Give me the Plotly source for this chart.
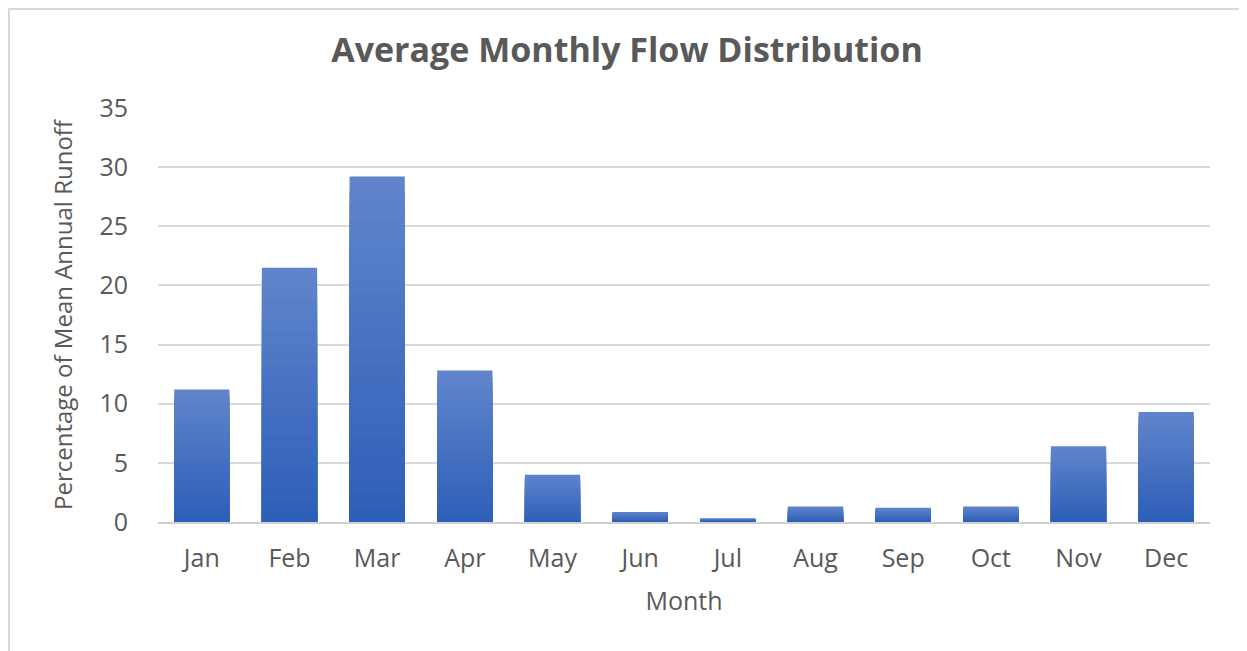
import plotly.graph_objects as go

months = ["Jan", "Feb", "Mar", "Apr", "May", "Jun", "Jul", "Aug", "Sep", "Oct", "Nov", "Dec"]
flow_pct = [11.2, 21.5, 29.2, 12.8, 4.0, 0.85, 0.3, 1.3, 1.2, 1.3, 6.4, 9.3]
y_ticks = [0, 5, 10, 15, 20, 25, 30, 35]

top_rgb = (96, 132, 203)
bot_rgb = (46, 95, 184)
n_layers = 24

fig = go.Figure()
for k in range(n_layers):
    frac = 1 - k / n_layers
    t = k / (n_layers - 1)
    r = round(top_rgb[0] + (bot_rgb[0] - top_rgb[0]) * t)
    g = round(top_rgb[1] + (bot_rgb[1] - top_rgb[1]) * t)
    b = round(top_rgb[2] + (bot_rgb[2] - top_rgb[2]) * t)
    fig.add_trace(go.Bar(
        x=months, y=[v * frac for v in flow_pct],
        marker=dict(color=f"rgb({r},{g},{b})", line=dict(width=0)),
        showlegend=False, hoverinfo="skip" if k else None,
    ))

W, H = 1239, 643  # page body has 8px margin
L, R, T, B = 150, 37, 100, 129
pw, ph = W - L - R, H - T - B

font_fam = "Open Sans, Noto Sans, sans-serif"
fig.update_layout(
    width=W, height=H,
    barmode="overlay", bargap=0.37,
    margin=dict(l=L, r=R, t=T, b=B),
    paper_bgcolor="white", plot_bgcolor="white",
    title=dict(text="<b>Average Monthly Flow Distribution</b>", x=(627 - 8) / W, xanchor="center",
               y=1 - (50 - 8) / H, yanchor="middle", yref="container",
               font=dict(family=font_fam, size=34, color="#595959")),
    font=dict(family=font_fam, color="#595959"),
    xaxis=dict(
        title=dict(text="Month", font=dict(size=25, color="#595959"), standoff=19),
        tickfont=dict(size=25, color="#595959"),
        showline=True, linecolor="#d0d0d0", linewidth=2,
        ticks="outside", ticklen=13, tickcolor="rgba(0,0,0,0)",
        showgrid=False,
    ),
    yaxis=dict(
        title=dict(text="Percentage of Mean Annual Runoff", font=dict(size=24, color="#595959"), standoff=20),
        tickfont=dict(size=25, color="#595959"),
        range=[0, 35], tickvals=y_ticks,
        showgrid=True, gridcolor="#d9d9d9", gridwidth=1.5,
        zeroline=False, showline=False,
        ticks="outside", ticklen=24, tickcolor="rgba(0,0,0,0)",
    ),
    shapes=[dict(type="rect", xref="paper", yref="paper",
                 x0=(1 - L) / pw, x1=(W + 10 - L) / pw,
                 y0=(B - (H + 10)) / ph, y1=1 + (T - 1) / ph,
                 line=dict(color="#d9d9d9", width=2), layer="below")],
)

fig.write_html("out.html")
